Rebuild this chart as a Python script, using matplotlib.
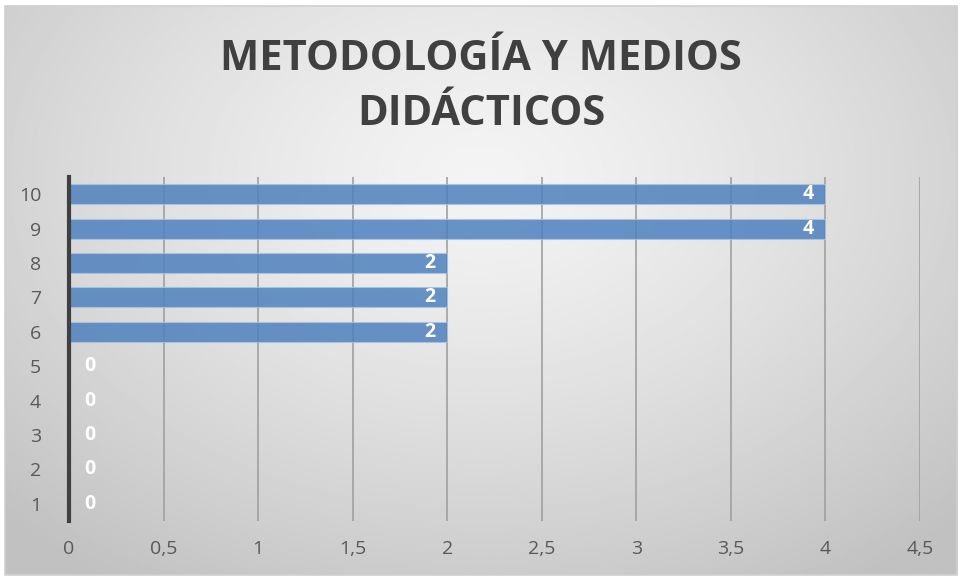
import matplotlib.pyplot as plt
import numpy as np

categories = ['1', '2', '3', '4', '5', '6', '7', '8', '9', '10']
values = [0, 0, 0, 0, 0, 2, 2, 2, 4, 4]
xticks = [0, 0.5, 1, 1.5, 2, 2.5, 3, 3.5, 4, 4.5]
xtick_labels = ['0', '0,5', '1', '1,5', '2', '2,5', '3', '3,5', '4', '4,5']
title = 'METODOLOGÍA Y MEDIOS\nDIDÁCTICOS'

plt.rcParams['font.family'] = ['Open Sans', 'DejaVu Sans']

fig = plt.figure(figsize=(9.62, 5.8), dpi=100)

# radial grey gradient behind everything
bg = fig.add_axes([0.005, 0.008, 0.99, 0.982], zorder=-10)
yy, xx = np.mgrid[0:1:300j, 0:1:500j]
r = np.sqrt(((xx - 0.5) / 0.72) ** 2 + ((yy - 0.3) / 0.85) ** 2)
r = np.clip(r, 0, 1)
shade = 0.955 - 0.2 * r ** 1.3
bg.imshow(shade, cmap='gray', vmin=0, vmax=1, aspect='auto', extent=[0, 1, 1, 0])
bg.set_axis_off()
fig.patches.append(plt.Rectangle((0.005, 0.008), 0.99, 0.982, transform=fig.transFigure,
                                 fill=False, edgecolor='#d0d0d0', lw=1.2))

ax = fig.add_axes([0.0717, 0.1017, 0.8846, 0.5931])
ax.patch.set_alpha(0)

pos = np.arange(len(categories))
ax.barh(pos, values, height=0.58, color='#4f81bd', alpha=0.85,
        edgecolor='#a9c4e4', linewidth=0.8, zorder=3)

for p, v in zip(pos, values):
    if v > 0:
        ax.text(v - 0.06, p, str(v), ha='right', va='center', color='white',
                fontsize=14, fontweight='bold', zorder=4)
    else:
        ax.text(0.11, p, str(v), ha='center', va='center', color='white',
                fontsize=14, fontweight='bold', zorder=4)

ax.set_xlim(0, 4.5)
ax.set_ylim(-0.5, len(categories) - 0.5)
ax.set_xticks(xticks)
ax.set_xticklabels(xtick_labels)
ax.set_yticks(pos)
ax.set_yticklabels(categories)
ax.tick_params(axis='both', length=0, labelsize=14, colors='#595959')
ax.tick_params(axis='x', pad=14)
ax.tick_params(axis='y', pad=20)
ax.xaxis.grid(True, color='#a0a0a0', linewidth=1.2, zorder=0)
ax.set_axisbelow(True)
for s in ['top', 'right', 'bottom']:
    ax.spines[s].set_visible(False)
ax.spines['left'].set_color('#404040')
ax.spines['left'].set_linewidth(3)
ax.spines['left'].set_zorder(5)

fig.text(0.5, 0.85, title, ha='center', va='center', fontsize=30,
         fontweight='bold', color='#404040', linespacing=1.45)

fig.savefig('out.png', dpi=100)
